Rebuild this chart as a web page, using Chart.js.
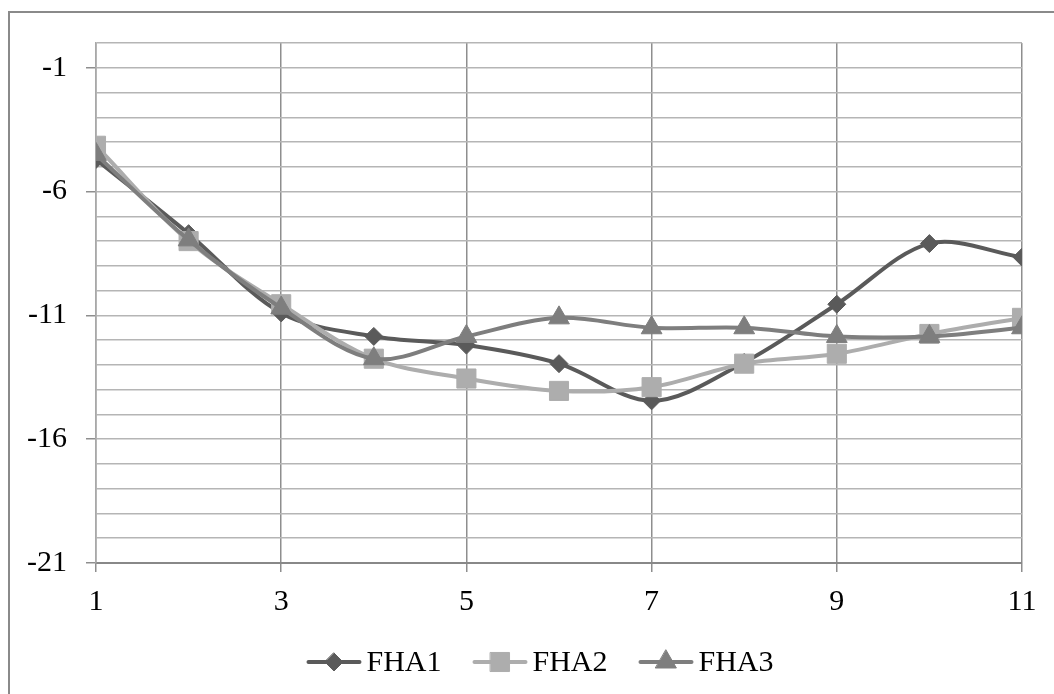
<!DOCTYPE html>
<html>
<head>
<meta charset="utf-8">
<script src="https://cdn.jsdelivr.net/npm/chart.js@4/dist/chart.umd.min.js"></script>
<style>
html, body { margin: 0; padding: 0; background: #fff; }
#wrap { position: relative; width: 1054px; height: 694px; }
</style>
</head>
<body>
<div id="wrap"><canvas id="chart"></canvas></div>
<script>
// data
const categories = [1, 2, 3, 4, 5, 6, 7, 8, 9, 10, 11];
const fha1 = [-4.7, -7.7, -10.9, -11.85, -12.2, -12.95, -14.45, -12.9, -10.55, -8.1, -8.65];
const fha2 = [-4.15, -8.0, -10.55, -12.75, -13.55, -14.05, -13.9, -12.95, -12.55, -11.75, -11.1];
const fha3 = [-4.5, -7.95, -10.7, -12.75, -11.85, -11.1, -11.5, -11.5, -11.85, -11.85, -11.5];
const yTickLabels = [-21, -16, -11, -6, -1];
const xTickLabels = [1, 3, 5, 7, 9, 11];

const FONT = '"Liberation Serif", "Times New Roman", serif';

function toPoints(vals) {
    return categories.map((c, i) => ({ x: c, y: vals[i] }));
}

function series(label, vals, color, style, radius, order) {
    return {
        label: label,
        data: toPoints(vals),
        order: order,
        borderColor: color,
        backgroundColor: color,
        pointBackgroundColor: color,
        pointBorderColor: color,
        pointStyle: style,
        pointRadius: radius,
        pointHoverRadius: radius,
        pointBorderWidth: 1,
        borderWidth: 4,
        tension: 0.33,
        fill: false
    };
}

// outer frame of the chart (cut off at right and bottom)
const framePlugin = {
    id: 'frame',
    beforeDraw(chart) {
        const ctx = chart.ctx;
        ctx.save();
        ctx.strokeStyle = '#8a8a8a';
        ctx.lineWidth = 2;
        ctx.strokeRect(9, 12, 1200, 900);
        ctx.restore();
    }
};

// legend: line with marker in the middle, then the name
function markerPath(ctx, style, r, x, y) {
    ctx.beginPath();
    if (style === 'rectRot') {
        ctx.moveTo(x, y - r); ctx.lineTo(x + r, y); ctx.lineTo(x, y + r); ctx.lineTo(x - r, y);
    } else if (style === 'rect') {
        const s = r * Math.SQRT1_2;
        ctx.rect(x - s, y - s, 2 * s, 2 * s);
    } else {
        const h = r * Math.sqrt(3) / 2;
        ctx.moveTo(x, y - r); ctx.lineTo(x + h, y + r / 2); ctx.lineTo(x - h, y + r / 2);
    }
    ctx.closePath();
}

const legendPlugin = {
    id: 'lineLegend',
    afterDraw(chart) {
        const ctx = chart.ctx;
        ctx.save();
        ctx.font = '30px ' + FONT;
        const lineW = 55, gap = 5, spacing = 31, cy = 662;
        const items = chart.data.datasets.map(ds => ({ ds: ds, w: ctx.measureText(ds.label).width }));
        const total = items.reduce((a, it) => a + lineW + gap + it.w, 0) + spacing * (items.length - 1);
        let x = 540 - total / 2;
        items.forEach(it => {
            const ds = it.ds;
            ctx.strokeStyle = ds.borderColor;
            ctx.lineWidth = 4;
            ctx.lineCap = 'round';
            ctx.beginPath();
            ctx.moveTo(x + 2, cy);
            ctx.lineTo(x + lineW - 2, cy);
            ctx.stroke();
            ctx.fillStyle = ds.borderColor;
            ctx.lineWidth = 1;
            markerPath(ctx, ds.pointStyle, ds.pointRadius, x + lineW / 2, cy);
            ctx.fill();
            ctx.stroke();
            ctx.fillStyle = '#000';
            ctx.textBaseline = 'middle';
            ctx.textAlign = 'left';
            ctx.fillText(ds.label, x + lineW + gap, cy + 1);
            x += lineW + gap + it.w + spacing;
        });
        ctx.restore();
    }
};

new Chart(document.getElementById('chart'), {
    type: 'line',
    data: {
        datasets: [
            series('FHA1', fha1, '#5a5a5a', 'rectRot', 9, 3),
            series('FHA2', fha2, '#adadad', 'rect', 13.5, 2),
            series('FHA3', fha3, '#7e7e7e', 'triangle', 12, 1)
        ]
    },
    options: {
        responsive: true,
        maintainAspectRatio: false,
        animation: false,
        layout: { padding: { top: 43, right: 32, left: 0, bottom: 0 } },
        plugins: {
            legend: { display: false },
            tooltip: { enabled: false }
        },
        scales: {
            x: {
                type: 'linear',
                min: 1,
                max: 11,
                afterBuildTicks: s => { s.ticks = xTickLabels.map(v => ({ value: v })); },
                afterFit: s => { s.height = 131; },
                ticks: { color: '#000', font: { family: FONT, size: 30 }, padding: 12, maxRotation: 0 },
                grid: { color: '#8e8e8e', lineWidth: 1.5, tickLength: 9, tickColor: '#8e8e8e' },
                border: { display: true, color: '#888', width: 2 }
            },
            y: {
                min: -21,
                max: 0,
                afterFit: s => { s.width = 96; },
                ticks: {
                    stepSize: 1,
                    autoSkip: false,
                    color: '#000',
                    font: { family: FONT, size: 30 },
                    padding: 19,
                    callback: v => yTickLabels.includes(v) ? String(v) : ''
                },
                grid: {
                    color: '#b5b5b5',
                    lineWidth: 1.5,
                    tickLength: 10,
                    tickColor: c => (c.tick && yTickLabels.includes(c.tick.value)) ? '#8e8e8e' : 'rgba(0,0,0,0)'
                },
                border: { display: true, color: '#a8a8a8', width: 1.5 }
            }
        }
    },
    plugins: [framePlugin, legendPlugin]
});
</script>
</body>
</html>
